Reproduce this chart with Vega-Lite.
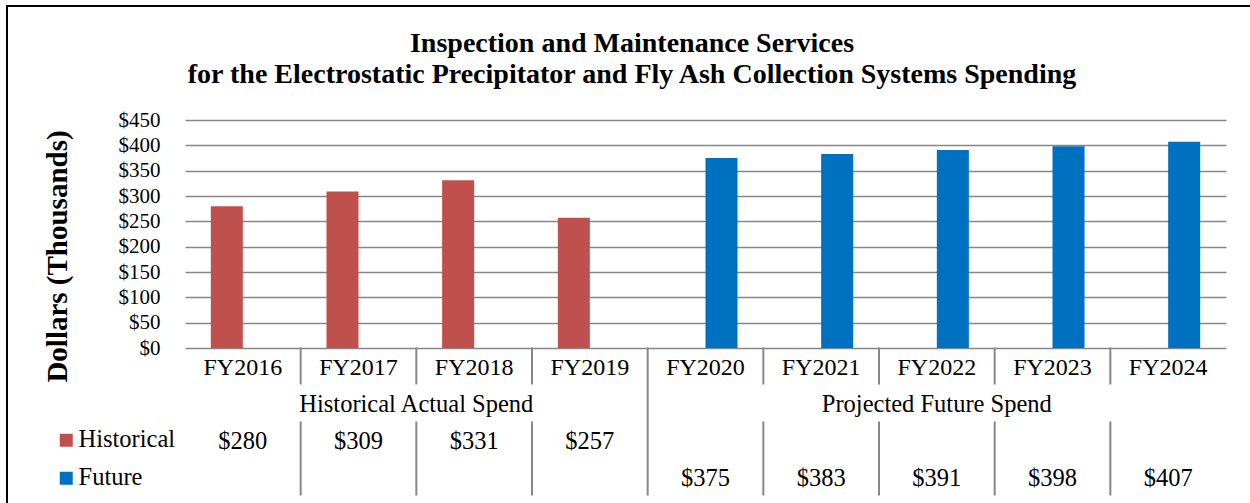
{
  "$schema": "https://vega.github.io/schema/vega-lite/v6.json",
  "autosize": {"type": "none"},
  "width": 1250,
  "height": 500,
  "padding": {"left": 7, "top": 6, "right": 0, "bottom": 0},
  "background": "white",
  "config": {
    "font": "Liberation Serif",
    "view": {"stroke": "black", "strokeWidth": 2}
  },
  "title": {
    "text": ["Inspection and Maintenance Services", "for the Electrostatic Precipitator and Fly Ash Collection Systems Spending"],
    "font": "Liberation Serif",
    "fontSize": 28,
    "fontWeight": "bold",
    "color": "black",
    "lineHeight": 31,
    "anchor": "middle",
    "frame": "group",
    "baseline": "top",
    "offset": -83
  },
  "datasets": {
    "spend": [
      {"year": "FY2016", "series": "Historical", "value": 280},
      {"year": "FY2017", "series": "Historical", "value": 309},
      {"year": "FY2018", "series": "Historical", "value": 331},
      {"year": "FY2019", "series": "Historical", "value": 257},
      {"year": "FY2020", "series": "Future", "value": 375},
      {"year": "FY2021", "series": "Future", "value": 383},
      {"year": "FY2022", "series": "Future", "value": 391},
      {"year": "FY2023", "series": "Future", "value": 398},
      {"year": "FY2024", "series": "Future", "value": 407}
    ],
    "periods": [
      {"period": "Historical Actual Spend", "year": "FY2018"},
      {"period": "Projected Future Spend", "year": "FY2022"}
    ]
  },
  "resolve": {"scale": {"y": "independent"}},
  "layer": [
    {
      "data": {"name": "spend"},
      "mark": {"type": "bar"},
      "encoding": {
        "x": {
          "field": "year", "type": "nominal",
          "scale": {"type": "band", "range": [178, 1219], "paddingInner": 0, "paddingOuter": 0},
          "axis": {"orient": "bottom", "offset": -158, "labels": false, "ticks": false, "domain": true, "domainColor": "#878787", "domainWidth": 2, "grid": false, "title": null}
        },
        "xOffset": {
          "field": "series", "type": "nominal",
          "scale": {"domain": ["Historical", "Future"], "paddingInner": 0, "paddingOuter": 0.806}
        },
        "y": {
          "field": "value", "type": "quantitative",
          "scale": {"domain": [0, 450], "range": [342, 114], "nice": false},
          "axis": {
            "title": "Dollars (Thousands)",
            "titleFont": "Liberation Serif", "titleFontSize": 29, "titleFontWeight": "bold", "titleColor": "black",
            "titleAngle": 270, "titleAlign": "center", "titleBaseline": "middle", "titleX": -128, "titleY": 250,
            "offset": -178,
            "values": [0, 50, 100, 150, 200, 250, 300, 350, 400, 450],
            "format": "$,.0f",
            "labelFont": "Liberation Serif", "labelFontSize": 21, "labelColor": "black", "labelPadding": 25,
            "ticks": false, "tickSize": 0, "domain": false,
            "grid": true, "gridColor": "#878787", "gridWidth": 1.5
          }
        },
        "color": {
          "field": "series", "type": "nominal",
          "scale": {"domain": ["Historical", "Future"], "range": ["#C0504D", "#0070C0"]},
          "legend": {
            "orient": "none", "legendX": 47, "legendY": 422, "title": null, "direction": "vertical",
            "symbolType": "square", "symbolSize": 169, "symbolStrokeWidth": 0,
            "labelFont": "Liberation Serif", "labelFontSize": 24.5, "labelColor": "black", "labelOffset": 0,
            "rowPadding": 13, "padding": 0
          }
        }
      }
    },
    {
      "layer": [
        {
          "data": {"name": "spend"},
          "mark": {"type": "text", "fontSize": 24, "baseline": "middle", "color": "black", "dy": 1.5},
          "encoding": {
            "x": {"field": "year", "type": "nominal", "axis": null},
            "y": {"datum": "cat", "type": "nominal",
                  "scale": {"type": "band", "domain": ["cat", "group", "Historical", "Future"], "range": [341.5, 489.5], "paddingInner": 0, "paddingOuter": 0},
                  "axis": null},
            "text": {"field": "year"}
          }
        },
        {
          "data": {"name": "spend"},
          "mark": {"type": "text", "fontSize": 24.5, "baseline": "middle", "color": "black", "dy": 2},
          "encoding": {
            "x": {"field": "year", "type": "nominal", "axis": null},
            "y": {"field": "series", "type": "nominal", "axis": null},
            "text": {"field": "value", "type": "quantitative", "format": "$,.0f"}
          }
        },
        {
          "data": {"name": "periods"},
          "transform": [{"filter": "datum.year == 'FY2018'"}],
          "mark": {"type": "text", "fontSize": 24.5, "baseline": "middle", "color": "black", "dy": 1.5},
          "encoding": {
            "x": {"field": "year", "type": "nominal", "bandPosition": 0, "axis": null},
            "y": {"datum": "group", "type": "nominal", "axis": null},
            "text": {"field": "period"}
          }
        },
        {
          "data": {"name": "periods"},
          "transform": [{"filter": "datum.year == 'FY2022'"}],
          "mark": {"type": "text", "fontSize": 24.5, "baseline": "middle", "color": "black", "dy": 1.5},
          "encoding": {
            "x": {"field": "year", "type": "nominal", "axis": null},
            "y": {"datum": "group", "type": "nominal", "axis": null},
            "text": {"field": "period"}
          }
        },
        {
          "data": {"name": "spend"},
          "transform": [{"filter": "datum.year != 'FY2016' && datum.year != 'FY2020'"}],
          "mark": {"type": "rule", "color": "#878787", "strokeWidth": 2},
          "encoding": {
            "x": {"field": "year", "type": "nominal", "bandPosition": 0, "axis": null},
            "y": {"datum": "cat", "type": "nominal", "bandPosition": 0, "axis": null},
            "y2": {"datum": "cat", "bandPosition": 1}
          }
        },
        {
          "data": {"name": "spend"},
          "transform": [{"filter": "datum.year != 'FY2016' && datum.year != 'FY2020'"}],
          "mark": {"type": "rule", "color": "#878787", "strokeWidth": 2},
          "encoding": {
            "x": {"field": "year", "type": "nominal", "bandPosition": 0, "axis": null},
            "y": {"datum": "Historical", "type": "nominal", "bandPosition": 0, "axis": null},
            "y2": {"datum": "Future", "bandPosition": 1}
          }
        },
        {
          "data": {"name": "spend"},
          "transform": [{"filter": "datum.year == 'FY2020'"}],
          "mark": {"type": "rule", "color": "#878787", "strokeWidth": 2},
          "encoding": {
            "x": {"field": "year", "type": "nominal", "bandPosition": 0, "axis": null},
            "y": {"datum": "cat", "type": "nominal", "bandPosition": 0, "axis": null},
            "y2": {"datum": "Future", "bandPosition": 1}
          }
        }
      ]
    }
  ]
}
